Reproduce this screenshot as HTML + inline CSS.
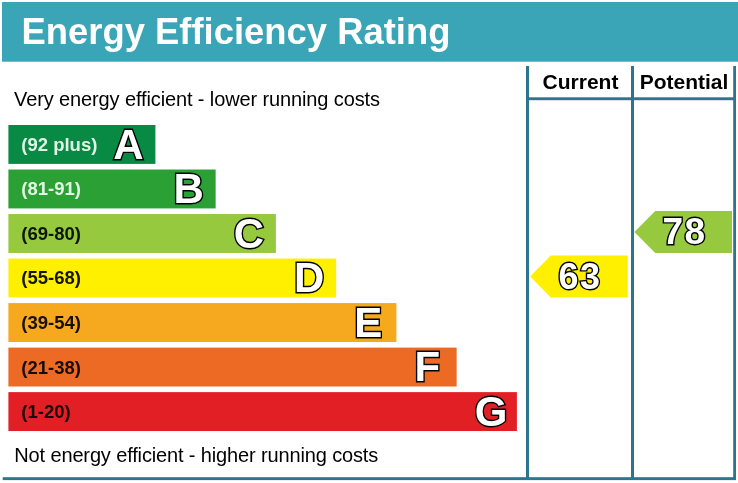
<!DOCTYPE html>
<html><head><meta charset="utf-8"><title>Energy Efficiency Rating</title>
<style>
html,body{margin:0;padding:0;background:#fff;}
body{width:738px;height:483px;position:relative;overflow:hidden;font-family:"Liberation Sans",Arial,sans-serif;}
.abs{position:absolute;}
#title{left:21.5px;top:11px;font-size:36.42px;font-weight:bold;color:#fff;line-height:42px;white-space:nowrap;}
.cap{font-size:20px;letter-spacing:-0.1px;color:#000;white-space:nowrap;line-height:22px;}
.colh{font-size:21px;font-weight:bold;color:#000;line-height:22px;text-align:center;white-space:nowrap;}
.rng{left:21.3px;line-height:39px;font-size:18.5px;font-weight:bold;white-space:nowrap;}
.let{line-height:39px;font-size:42px;font-weight:bold;color:#fff;-webkit-text-stroke:2.8px #000;paint-order:stroke fill;white-space:nowrap;}
.num{font-size:36px;font-weight:bold;color:#fff;-webkit-text-stroke:2.8px #000;paint-order:stroke fill;line-height:42px;white-space:nowrap;text-align:center;letter-spacing:1.5px;padding-left:1.5px;box-sizing:border-box;}
</style></head><body>
<svg class="abs" style="left:0;top:0;" width="738" height="483" viewBox="0 0 738 483">
<rect x="2" y="2" width="736" height="59.7" fill="#3ba5b8"/>
<g fill="#2b768d">
<rect x="526" y="66" width="3" height="414"/>
<rect x="631" y="66" width="3" height="414"/>
<rect x="733.2" y="66" width="2.8" height="414"/>
<rect x="526" y="97.3" width="210" height="2.9"/>
<rect x="2.7" y="477.2" width="733.3" height="2.9"/>
</g>
<rect x="8.4" y="125.00" width="147.00" height="38.9" fill="#088944"/>
<rect x="8.4" y="169.52" width="207.25" height="38.9" fill="#2ba135"/>
<rect x="8.4" y="214.04" width="267.50" height="38.9" fill="#96c93d"/>
<rect x="8.4" y="258.56" width="327.75" height="38.9" fill="#fff000"/>
<rect x="8.4" y="303.08" width="388.00" height="38.9" fill="#f6a81f"/>
<rect x="8.4" y="347.60" width="448.25" height="38.9" fill="#ec6a23"/>
<rect x="8.4" y="392.12" width="508.50" height="38.9" fill="#e31f26"/>
<polygon points="530.2,276.5 550.8,255.6 627.8,255.6 627.8,297.6 550.8,297.6" fill="#fff000"/>
<polygon points="634.4,231.9 655.3,211.1 732,211.1 732,252.9 655.3,252.9" fill="#96c93d"/>
</svg>
<div id="title" class="abs">Energy Efficiency Rating</div>

<div class="abs colh" style="left:529.5px;top:70.65px;width:102px;">Current</div>
<div class="abs colh" style="left:634.5px;top:70.65px;width:99px;">Potential</div>

<div class="abs cap" style="left:14.1px;top:87.9px;letter-spacing:-0.12px;">Very energy efficient - lower running costs</div>
<div class="abs cap" style="left:14.3px;top:444.2px;letter-spacing:-0.14px;">Not energy efficient - higher running costs</div>

<div class="abs rng" style="top:125px;color:#dff6e6;">(92 plus)</div><div class="abs let" style="left:113.20px;top:124.80px;">A</div>
<div class="abs rng" style="top:169px;color:#e4f7e4;">(81-91)</div><div class="abs let" style="left:173.45px;top:169.32px;">B</div>
<div class="abs rng" style="top:214px;color:#0d160a;">(69-80)</div><div class="abs let" style="left:233.70px;top:213.84px;">C</div>
<div class="abs rng" style="top:258px;color:#15140a;">(55-68)</div><div class="abs let" style="left:293.95px;top:258.36px;">D</div>
<div class="abs rng" style="top:303px;color:#17100a;">(39-54)</div><div class="abs let" style="left:354.20px;top:302.88px;">E</div>
<div class="abs rng" style="top:348px;color:#180c0a;">(21-38)</div><div class="abs let" style="left:414.45px;top:347.40px;">F</div>
<div class="abs rng" style="top:392px;color:#1a0808;">(1-20)</div><div class="abs let" style="left:474.70px;top:391.92px;">G</div>

<div class="abs num" style="left:539.3px;top:256.2px;width:80px;">63</div>
<div class="abs num" style="left:643.8px;top:211.1px;width:80px;font-size:37px;">78</div>
</body></html>
